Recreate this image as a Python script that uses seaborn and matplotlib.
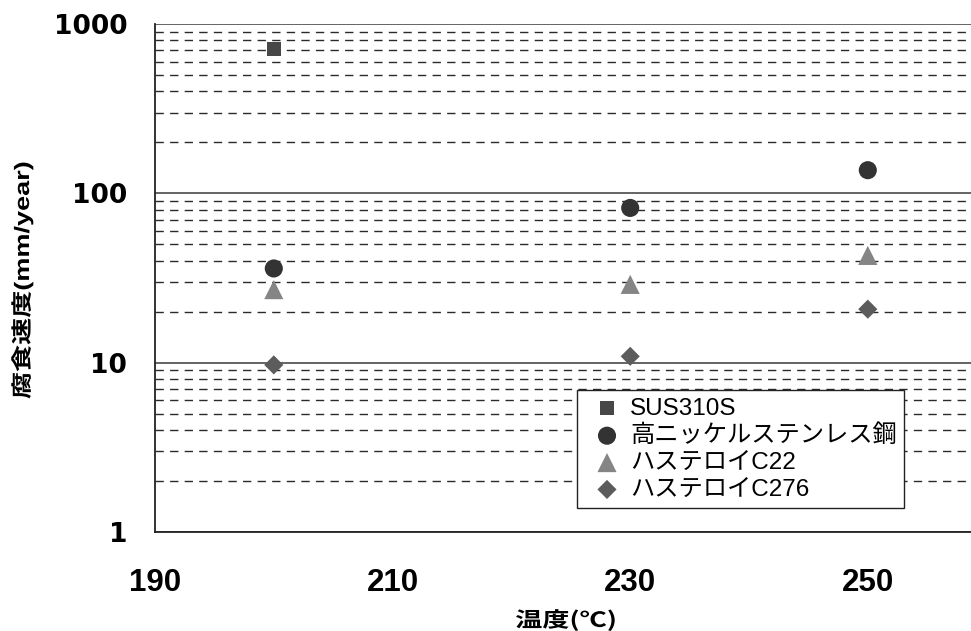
import numpy as np
import pandas as pd
import matplotlib
matplotlib.use("Agg")
import matplotlib.pyplot as plt
import seaborn as sns
from matplotlib.ticker import LogLocator, FixedLocator, NullFormatter
from matplotlib.patheffects import AbstractPathEffect
from matplotlib.transforms import Affine2D

# Corrosion rate (mm/year) by temperature for each material
temps_sus = [200]
rate_sus = [710]
temps_ni = [200, 230, 250]
rate_ni = [36, 82, 137]
temps_c22 = [200, 230, 250]
rate_c22 = [27, 29, 43]
temps_c276 = [200, 230, 250]
rate_c276 = [9.7, 10.9, 20.7]

names = ["SUS310S", "高ニッケルステンレス鋼", "ハステロイC22", "ハステロイC276"]
x_ticks = [190, 210, 230, 250]
y_ticks = [1, 10, 100, 1000]
y_tick_labels = ["1", "10", "100", "1000"]

series = [
    (names[0], temps_sus, rate_sus, "s", "#474747", 95),
    (names[1], temps_ni, rate_ni, "o", "#333333", 170),
    (names[2], temps_c22, rate_c22, "^", "#858585", 190),
    (names[3], temps_c276, rate_c276, "D", "#5c5c5c", 95),
]


class Stretch(AbstractPathEffect):
    """Scale a text path about its own centre (display coordinates)."""

    def __init__(self, sx=1.0, sy=1.0):
        super().__init__()
        self.sx, self.sy = sx, sy

    def draw_path(self, renderer, gc, tpath, affine, rgbFace=None):
        bb = tpath.get_extents(affine)
        cx, cy = (bb.x0 + bb.x1) / 2, (bb.y0 + bb.y1) / 2
        tr = affine + Affine2D().translate(-cx, -cy).scale(self.sx, self.sy).translate(cx, cy)
        renderer.draw_path(gc, tpath, tr, rgbFace)


sns.set_theme(style="white")
plt.rcParams["font.family"] = ["Noto Sans CJK JP", "DejaVu Sans"]

fig = plt.figure(figsize=(9.71, 6.31), dpi=100)
ax = fig.add_axes([155 / 971, 99 / 631, 831.6 / 971, 508 / 631])

for name, xs, ys, mk, col, sz in series:
    df = pd.DataFrame({"temp": xs, "rate": ys})
    sns.scatterplot(data=df, x="temp", y="rate", marker=mk, color=col, s=sz,
                    edgecolor="none", linewidth=0, label=name, ax=ax, zorder=3)

ax.set_yscale("log")
ax.set_xlim(190, 260)
ax.set_ylim(1, 1000)

# Grid: solid at decades, dashed at 2..9 of each decade
ax.yaxis.set_major_locator(FixedLocator(y_ticks))
ax.yaxis.set_minor_locator(LogLocator(base=10, subs=np.arange(2, 10)))
ax.yaxis.set_minor_formatter(NullFormatter())
ax.set_yticklabels(y_tick_labels)
ax.grid(False)
ax.grid(True, which="major", axis="y", color="#3a3a3a", linestyle="-", linewidth=1.1, zorder=1)
ax.grid(True, which="minor", axis="y", color="#2a2a2a", linestyle=(0, (6, 4.5)), linewidth=1.0, zorder=1)

ax.set_xticks(x_ticks)
ax.set_xticklabels([str(v) for v in x_ticks])

for side in ("top", "right"):
    ax.spines[side].set_visible(False)
for side in ("left", "bottom"):
    ax.spines[side].set_visible(True)
    ax.spines[side].set_color("#222222")
    ax.spines[side].set_linewidth(1.3)

ax.tick_params(axis="x", which="major", direction="in", length=7, width=1, color="#222222",
               pad=26, labelsize=22.5)
ax.tick_params(axis="y", which="major", direction="in", length=7, width=1, color="#222222",
               pad=20, labelsize=19)
ax.tick_params(axis="y", which="minor", length=0)

for lab in ax.get_xticklabels():
    lab.set_fontfamily(["Liberation Sans", "DejaVu Sans"])
    lab.set_fontweight("bold")
    lab.set_color("black")
for lab in ax.get_yticklabels():
    lab.set_fontfamily(["DejaVu Sans"])
    lab.set_fontweight("bold")
    lab.set_color("black")

ax.set_xlabel("")
ax.set_ylabel("")
fig.text(566 / 971, 1 - 620 / 631, "温度(℃)", ha="center", va="center",
         fontsize=15, fontweight="bold", color="black",
         path_effects=[Stretch(sx=1.3)])
fig.text(22 / 971, 1 - 280 / 631, "腐食速度(mm/year)", ha="center", va="center",
         rotation=90, fontsize=15, fontweight="bold", color="black",
         family=["Liberation Sans", "Noto Sans CJK JP"],
         path_effects=[Stretch(sy=1.3)])

leg = ax.legend(loc="lower left", bbox_to_anchor=(0.507, 0.047), frameon=True,
                fancybox=False, framealpha=1, edgecolor="#222222",
                prop={"family": ["Liberation Sans", "Noto Sans CJK JP"], "size": 17.5},
                handletextpad=0.0, borderpad=0.3, labelspacing=0.2,
                handlelength=1.9, borderaxespad=0)
leg.get_frame().set_linewidth(1.0)
for t in leg.get_texts():
    t.set_color("black")

fig.savefig("out.png", dpi=100, facecolor="white")
